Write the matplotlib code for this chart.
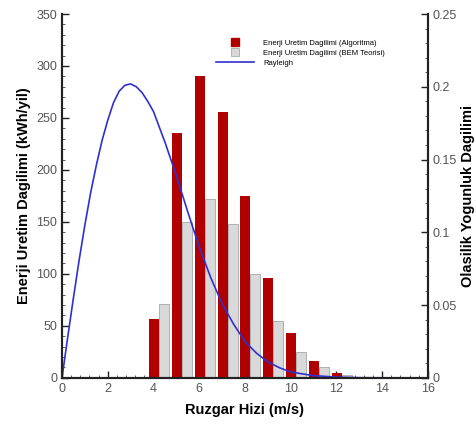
import numpy as np
import matplotlib.pyplot as plt
from matplotlib.lines import Line2D
from matplotlib.ticker import MultipleLocator, AutoMinorLocator

plt.rcParams['font.family'] = ['Liberation Sans', 'DejaVu Sans']

# wind speed bins (m/s)
speeds = [4, 5, 6, 7, 8, 9, 10, 11, 12, 13]
# energy production distribution (kWh/yil)
energy_algo = [57, 236, 290, 256, 175, 96, 43, 16, 5, 1]
energy_bem = [71, 150, 172, 148, 100, 55, 25, 10, 3, 1]

# Rayleigh probability density
ray_v = [0, 0.25, 0.5, 0.75, 1, 1.25, 1.5, 1.75, 2, 2.25, 2.5, 2.75, 3,
         3.25, 3.5, 3.75, 4, 4.5, 5, 5.5, 6, 6.5, 7, 7.5, 8,
         8.5, 9, 9.5, 10, 11, 12, 13, 14, 15, 16]
ray_p = [0, 0.028, 0.055, 0.081, 0.105, 0.127, 0.146, 0.163, 0.177, 0.189,
         0.197, 0.201, 0.202, 0.200, 0.196, 0.190, 0.183, 0.162,
         0.139, 0.114, 0.090, 0.069, 0.051, 0.037, 0.025, 0.017, 0.011,
         0.007, 0.004, 0.0015, 0.0005, 0.0001, 0, 0, 0]

fig = plt.figure(figsize=(4.77, 4.25), dpi=100)
ax = fig.add_axes([0.130, 0.111, 0.767, 0.856])
ax2 = ax.twinx()

x = np.array(speeds)
w = 0.44
ax.bar(x + 0.02, energy_algo, width=w, color='#b00000', linewidth=0, zorder=2)
ax.bar(x + 0.46, energy_bem, width=w, color='#d9d9d9', edgecolor='#9a9a9a',
       linewidth=0.5, zorder=2)
ax2.plot(ray_v, ray_p, color='#3030d0', lw=1.2)

ax.set_xlim(0, 16)
ax.set_ylim(0, 350)
ax2.set_ylim(0, 0.25)

ax.xaxis.set_major_locator(MultipleLocator(2))
ax.xaxis.set_minor_locator(AutoMinorLocator(5))
ax.yaxis.set_major_locator(MultipleLocator(50))
ax.yaxis.set_minor_locator(AutoMinorLocator(5))
ax2.set_yticks([0, 0.05, 0.1, 0.15, 0.2, 0.25])
ax2.set_yticklabels(['0', '0.05', '0.1', '0.15', '0.2', '0.25'])
ax2.yaxis.set_minor_locator(AutoMinorLocator(5))

for a in (ax, ax2):
    a.spines['top'].set_visible(False)
    for s in ('left', 'right', 'bottom'):
        a.spines[s].set_linewidth(1.5)
        a.spines[s].set_color('#222222')
    a.tick_params(which='major', direction='in', length=5, width=1,
                  labelsize=9, labelcolor='#555555', color='#222222')
    a.tick_params(which='minor', direction='in', length=2.5, width=0.6,
                  color='#444444')

ax.set_xlabel('Ruzgar Hizi (m/s)', fontsize=10.5, fontweight='bold', labelpad=6)
ax.set_ylabel('Enerji Uretim Dagilimi (kWh/yil)', fontsize=10.5,
              fontweight='bold', labelpad=4)
ax2.set_ylabel('Olasilik Yogunluk Dagilimi', fontsize=10.5, fontweight='bold',
               labelpad=3)

handles = [
    Line2D([], [], ls='', marker='s', markersize=6, color='#b00000'),
    Line2D([], [], ls='', marker='s', markersize=6, markerfacecolor='#d9d9d9',
           markeredgecolor='#9ab0b0', markeredgewidth=0.6),
    Line2D([], [], color='#3030d0', lw=1.2),
]
labels = ['Enerji Uretim Dagilimi (Algoritma)',
          'Enerji Uretim Dagilimi (BEM Teorisi)', 'Rayleigh']
ax2.legend(handles, labels, loc='upper left', bbox_to_anchor=(0.41, 0.94),
           frameon=False, fontsize=5.5, handlelength=5, handletextpad=1.2,
           labelspacing=0.35, borderpad=0)

fig.savefig('out.png', dpi=100)
